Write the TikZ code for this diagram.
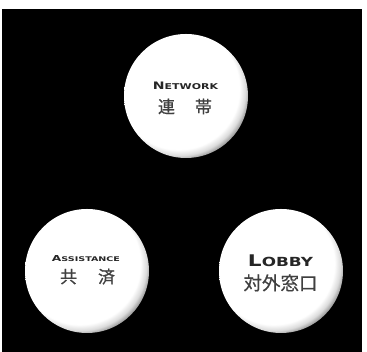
\documentclass[tikz,border=0pt]{standalone}
\usepackage{fontspec}
\newfontfamily\cjk{Noto Sans CJK JP}[FakeBold=0.6]
\newfontfamily\capsfont{DejaVu Sans}
\newcommand\fsc[2]{{\fontsize{10}{10}\selectfont #1}{\fontsize{7.8}{8}\selectfont #2}}
\pgfdeclareradialshading{btn}{\pgfpoint{-5bp}{5bp}}{%
  color(0bp)=(white); color(24.5bp)=(white); color(26.8bp)=(white!86!black);
  color(29bp)=(white!52!black); color(30.8bp)=(white!18!black); color(33bp)=(black); color(60bp)=(black)}
\tikzset{
  btn/.style={circle, shading=btn, minimum size=124pt, inner sep=0pt, draw=none},
  captext/.style={inner sep=0pt, anchor=south, text=black!85, font=\capsfont\bfseries},
  cjktext/.style={inner sep=0pt, anchor=base, text=black!75, font=\cjk}
}
\begin{document}
\begin{tikzpicture}[x=1pt,y=1pt]
\useasboundingbox (0,0) rectangle (367,352);
\fill[white] (0,0) rectangle (367,352);
\fill[black] (1.5,0) rectangle (361.5,343);
% circles
\node[btn] (net) at (186,256) {};
\node[btn] (ass) at (87,81) {};
\node[btn] (lob) at (281,81) {};
% Network
\node[captext] (netEn) at (185.5,262) {\resizebox{65pt}{7.5pt}{\fsc{N}{ETWORK}}};
\node[cjktext] (netJa) at (185,239) {\fontsize{17}{17}\selectfont 連\hspace{20pt}帯};
% Assistance
\node[captext] (assEn) at (86,90) {\resizebox{68pt}{6pt}{\fsc{A}{SSISTANCE}}};
\node[cjktext] (assJa) at (87.5,69) {\fontsize{17}{17}\selectfont 共\hspace{21pt}済};
% Lobby
\node[captext] (lobEn) at (280.5,85) {\resizebox{65pt}{11.7pt}{\fsc{L}{OBBY}}};
\node[cjktext] (lobJa) at (280.5,62) {\fontsize{18.5}{18.5}\selectfont 対外窓口};
\end{tikzpicture}
\end{document}
